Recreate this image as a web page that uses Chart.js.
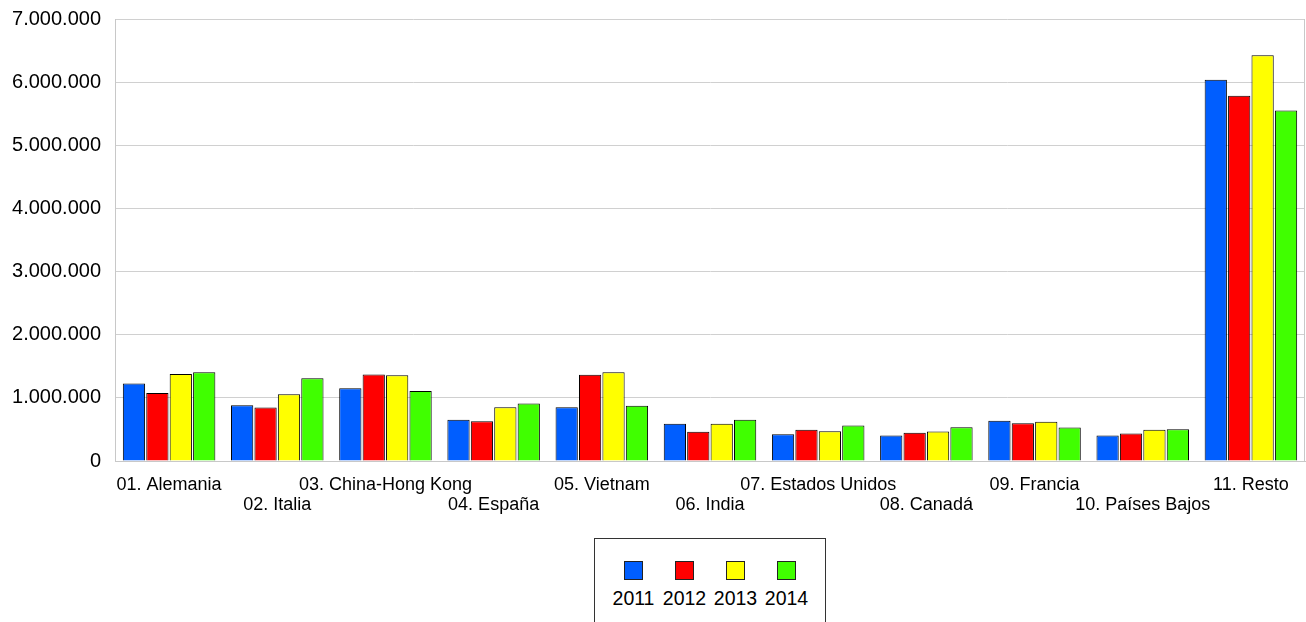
<!DOCTYPE html>
<html>
<head>
<meta charset="utf-8">
<script src="https://cdn.jsdelivr.net/npm/chart.js@4"></script>
<style>
  body { margin: 0; background: #fff; }
  #wrap { position: relative; width: 1306px; height: 622px; overflow: hidden; }
  #legend {
    position: absolute; left: 594px; top: 538px; width: 232px; height: 100px;
    border: 1px solid #333; background: #fff;
    font-family: "Liberation Sans", Arial, sans-serif; font-size: 19.5px; color: #000;
    padding-left: 13px; box-sizing: border-box;
  }
  .item { float: left; width: 51px; text-align: center; }
  .sw { width: 17px; height: 17px; border: 1px solid #222; margin: 22px auto 0 auto; }
  .lbl { line-height: 22px; margin-top: 7px; }
</style>
</head>
<body>
<div id="wrap">
  <canvas id="myChart" width="1306" height="622"></canvas>
  <div id="legend"></div>
</div>
<script>
var countries = ['01. Alemania', '02. Italia', '03. China-Hong Kong', '04. España', '05. Vietnam',
  '06. India', '07. Estados Unidos', '08. Canadá', '09. Francia', '10. Países Bajos', '11. Resto'];

var years = ['2011', '2012', '2013', '2014'];

var data2011 = [1226000, 882000, 1151000, 652000, 852000, 589000, 424000, 404000, 637000, 404000, 6037000];
var data2012 = [1077000, 846000, 1368000, 630000, 1365000, 462000, 494000, 447000, 599000, 435000, 5784000];
var data2013 = [1378000, 1056000, 1357000, 852000, 1406000, 589000, 472000, 467000, 620000, 494000, 6424000];
var data2014 = [1405000, 1310000, 1109000, 910000, 874000, 652000, 562000, 535000, 530000, 503000, 5551000];

var colors = ['#005eff', '#ff0000', '#ffff00', '#40ff00'];

// staggered labels: odd ones on the first row, even ones on the second
var labels = countries.map(function(c, i){
  return i % 2 === 0 ? [c, ''] : ['', c];
});

var series = [data2011, data2012, data2013, data2014];
var datasets = series.map(function(d, i){
  return {
    label: years[i],
    data: d,
    backgroundColor: colors[i],
    borderColor: '#000',
    borderWidth: 1,
    barPercentage: 0.95,
    categoryPercentage: 0.866
  };
});

function dots(v){
  return String(v).replace(/\B(?=(\d{3})+(?!\d))/g, '.');
}

// right edge of the plot frame
var frame = {
  id: 'frame',
  afterDraw: function(chart){
    var a = chart.chartArea, ctx = chart.ctx;
    ctx.save();
    ctx.strokeStyle = '#c8c8c8';
    ctx.lineWidth = 1;
    ctx.beginPath();
    ctx.moveTo(Math.round(a.right) - 0.5, a.top);
    ctx.lineTo(Math.round(a.right) - 0.5, a.bottom);
    ctx.stroke();
    ctx.restore();
  }
};

var ctx = document.getElementById('myChart').getContext('2d');
var myChart = new Chart(ctx, {
  type: 'bar',
  data: { labels: labels, datasets: datasets },
  options: {
    responsive: false,
    animation: false,
    layout: { padding: { top: 0, right: 1, bottom: 106, left: 11 } },
    plugins: { legend: { display: false }, tooltip: { enabled: false } },
    scales: {
      x: {
        grid: { display: false, drawTicks: false },
        border: { color: '#c8c8c8' },
        afterFit: function(s){ s.height = 55; },
        ticks: {
          color: '#000',
          padding: 14,
          maxRotation: 0,
          autoSkip: false,
          font: { family: 'Liberation Sans', size: 18, lineHeight: 1.111 }
        }
      },
      y: {
        min: 0,
        max: 7000000,
        grid: { color: '#d0d0d0', drawTicks: true, tickLength: 7, tickColor: 'rgba(0,0,0,0)' },
        border: { color: '#c8c8c8' },
        afterFit: function(s){ s.width = 104; },
        ticks: {
          stepSize: 1000000,
          color: '#000',
          padding: 7,
          font: { family: 'Liberation Sans', size: 20 },
          callback: function(v){ return dots(v); }
        }
      }
    }
  },
  plugins: [frame]
});

var legend = document.getElementById('legend');
years.forEach(function(y, i){
  var item = document.createElement('div');
  item.className = 'item';
  var sw = document.createElement('div');
  sw.className = 'sw';
  sw.style.background = colors[i];
  var lbl = document.createElement('div');
  lbl.className = 'lbl';
  lbl.textContent = y;
  item.appendChild(sw);
  item.appendChild(lbl);
  legend.appendChild(item);
});
</script>
</body>
</html>
